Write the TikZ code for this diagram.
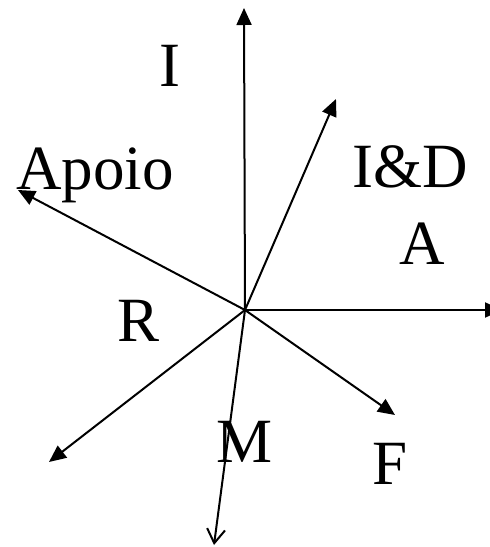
\documentclass[tikz,border=0pt]{standalone}
\usepackage{fontspec}
\setmainfont{Liberation Serif}
\usetikzlibrary{arrows.meta}

\begin{document}
\begin{tikzpicture}[
    x=1pt, y=-1pt,
    font=\fontsize{63}{70}\selectfont,
    arr/.style={-{Triangle[length=17pt,width=15pt]}, line width=2pt},
    openarr/.style={-{Straight Barb[length=14pt,width=18pt]}, line width=2pt},
    lbl/.style={anchor=base, inner sep=0pt}
]
\useasboundingbox (0,0) rectangle (490,547);

% -- origin and arrow ends
\coordinate (o) at (245,310);
\coordinate (up) at (244,8);
\coordinate (id) at (336,99);
\coordinate (right) at (502,310);
\coordinate (f) at (395,415);
\coordinate (down) at (214,545);
\coordinate (ll) at (49,462);
\coordinate (apoio) at (18,190);

% -- arrows
\draw[arr] (o) -- (up);
\draw[arr] (o) -- (id);
\draw[arr] (o) -- (right);
\draw[arr] (o) -- (f);
\draw[openarr] (o) -- (down);
\draw[arr] (o) -- (ll);
\draw[arr] (o) -- (apoio);

% -- labels
\node[lbl] (lI) at (170,86) {I};
\node[lbl] (lApoio) at (95,189) {Apoio};
\node[lbl] (lID) at (410,187) {I\&D};
\node[lbl] (lA) at (422,264) {A};
\node[lbl] (lR) at (139,341) {R};
\node[lbl] (lM) at (245,462) {M};
\node[lbl] (lF) at (390,484) {F};

\end{tikzpicture}
\end{document}
